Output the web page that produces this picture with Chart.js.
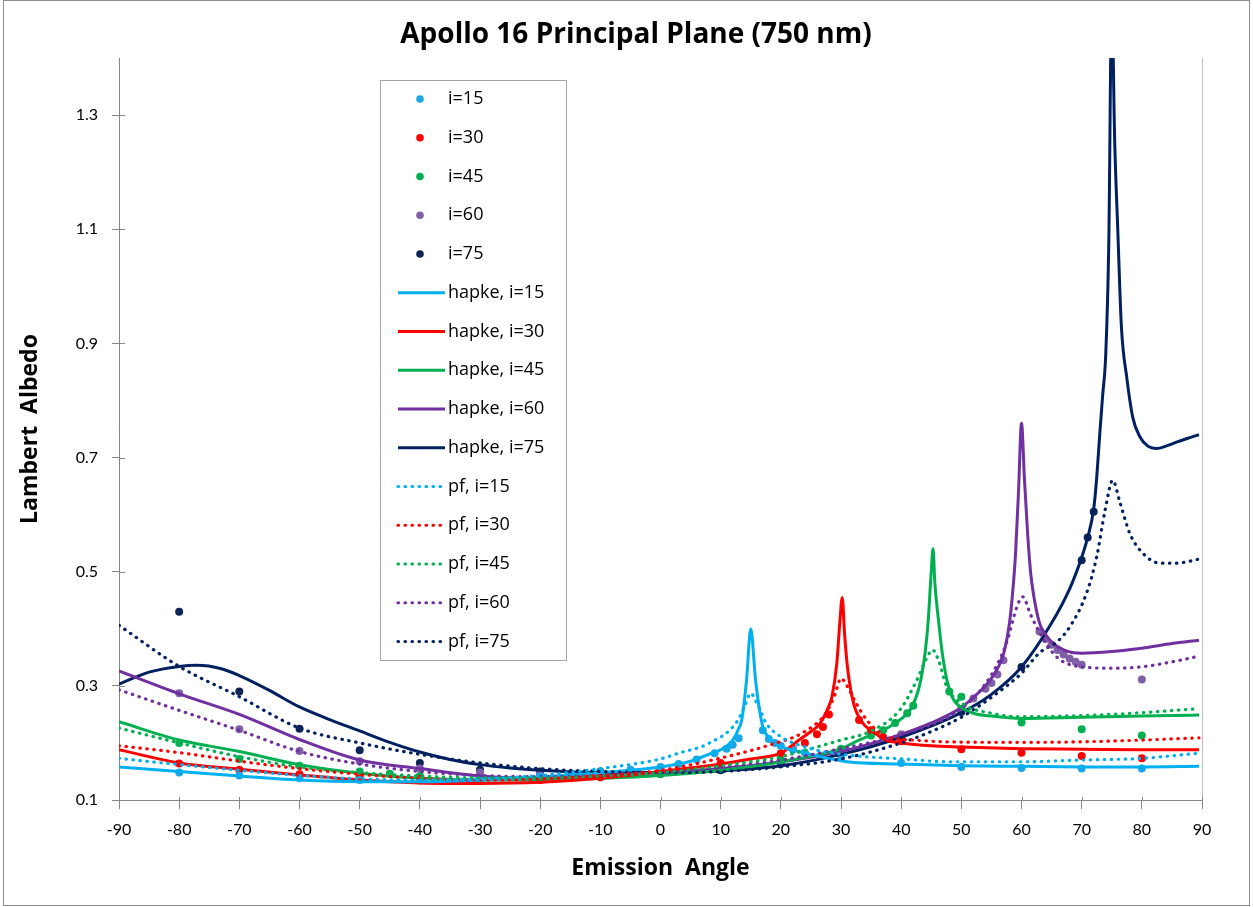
<!DOCTYPE html>
<html>
<head>
<meta charset="utf-8">
<script src="https://cdn.jsdelivr.net/npm/chart.js@4.4.1/dist/chart.umd.min.js"></script>
<style>
  html, body { margin: 0; padding: 0; background: #ffffff; }
  #wrap { width: 1253px; height: 907px; }
</style>
</head>
<body>
<div id="wrap"><canvas id="albedo"></canvas></div>
<script>
// axis ticks
var xTicks = [-90,-80,-70,-60,-50,-40,-30,-20,-10,0,10,20,30,40,50,60,70,80,90];
var yTicks = [0.1,0.3,0.5,0.7,0.9,1.1,1.3];

// measured points
var obs15X = [-80,-70,-60,-50,-40,-30,-20,-15,-10,-5,0,3,6,9,11,12,13,17,18,19,20,22,24,30,40,50,60,70,80];
var obs15Y = [.148,.143,.138,.135,.134,.136,.141,.145,.149,.153,.158,.163,.171,.182,.19,.197,.208,.222,.207,.2,.195,.188,.183,.175,.165,.158,.156,.155,.155];
var obs30X = [-80,-70,-60,-50,-40,-30,-20,-10,0,10,20,22,24,26,27,28,33,35,37,40,50,60,70,80];
var obs30Y = [.164,.153,.145,.14,.137,.134,.135,.14,.148,.165,.182,.19,.2,.215,.228,.25,.24,.222,.21,.203,.189,.183,.177,.173];
var obs45X = [-80,-70,-60,-50,-45,-40,-30,-20,-10,0,10,20,30,35,37,39,41,42,48,50,60,70,80];
var obs45Y = [.2,.172,.16,.15,.146,.142,.137,.137,.14,.145,.155,.17,.19,.213,.222,.235,.252,.265,.29,.281,.236,.224,.213];
var obs60X = [-80,-70,-60,-50,-40,-30,-20,-10,0,10,20,30,40,50,52,54,55,56,57,63,64,65,66,67,68,69,70,80];
var obs60Y = [.287,.224,.186,.168,.155,.148,.145,.145,.15,.155,.168,.188,.215,.26,.278,.295,.305,.32,.345,.395,.382,.372,.363,.355,.348,.342,.337,.311];
var obs75X = [-80,-70,-60,-50,-40,-30,-20,-10,0,10,20,30,40,50,60,70,71,72];
var obs75Y = [.43,.29,.225,.187,.165,.153,.15,.15,.152,.152,.163,.182,.209,.254,.333,.52,.56,.605];

// hapke model
var hapke15X = [-90,-80,-70,-60,-50,-40,-30,-20,-10,0,5,8,10,12,13,13.5,14.3,15,15.8,17,18,19,21,23,27,31,40,50,60,70,80,89.5];
var hapke15Y = [.158,.15,.142,.135,.132,.132,.135,.14,.148,.158,.168,.18,.188,.205,.225,.24,.31,.4,.31,.228,.21,.199,.19,.185,.175,.167,.163,.16,.159,.158,.158,.159];
var hapke30X = [-90,-80,-70,-60,-50,-40,-30,-20,-10,0,10,15,20,23,25,26.5,28,28.5,29.3,29.8,30.2,30.6,31,31.5,32.2,33,34,35,37.5,40,45,50,60,70,80,89.5];
var hapke30Y = [.188,.165,.154,.144,.135,.13,.129,.131,.138,.15,.163,.172,.182,.205,.22,.234,.265,.281,.339,.41,.455,.39,.34,.3,.265,.245,.23,.222,.205,.2,.195,.193,.19,.189,.188,.188];
var hapke45X = [-90,-80,-70,-60,-50,-40,-30,-20,-10,0,10,20,30,33,35,38,40,41.5,43,44,44.5,45,45.3,45.6,46.2,46.8,47.6,48.5,49.8,52,55,60,70,80,89.5];
var hapke45Y = [.237,.205,.185,.162,.147,.138,.135,.135,.138,.143,.152,.167,.19,.205,.214,.228,.242,.258,.298,.36,.415,.5,.54,.48,.415,.36,.31,.28,.263,.252,.247,.243,.245,.247,.249];
var hapke60X = [-90,-80,-70,-60,-50,-40,-30,-20,-10,0,10,20,30,40,45,50,52,54,56,57,58,58.5,59,59.5,60,60.5,61,61.5,62,63,64,65,67,70,75,80,85,89.5];
var hapke60Y = [.326,.286,.25,.206,.17,.155,.142,.138,.142,.148,.155,.167,.185,.215,.235,.262,.28,.3,.33,.355,.41,.46,.53,.64,.76,.66,.57,.5,.46,.41,.39,.377,.363,.357,.36,.366,.374,.38];
var hapke75X = [-90,-85,-80,-77,-73,-70,-65,-60,-55,-50,-45,-40,-35,-30,-25,-20,-10,0,10,20,30,40,50,55,60,65,68,70,71,72,72.5,73,73.5,74,74.5,75,75.5,76,76.6,77.5,78.5,79.7,81,82.5,84,86,88,89.5];
var hapke75Y = [.303,.324,.334,.336,.33,.318,.292,.263,.241,.221,.201,.184,.171,.162,.156,.152,.148,.148,.151,.16,.18,.21,.253,.285,.333,.41,.47,.525,.56,.61,.665,.74,.81,.88,1.07,1.5,1.25,1.1,.93,.84,.77,.736,.72,.716,.72,.728,.735,.74];

// pf model
var pf15X = [-90,-80,-70,-60,-50,-40,-30,-20,-10,0,3,8,12.7,14,15,16,17.6,20,25,31,40,48,60,70,80,89.5];
var pf15Y = [.173,.162,.152,.143,.137,.135,.137,.143,.155,.172,.182,.199,.237,.265,.287,.27,.234,.211,.19,.179,.172,.167,.167,.17,.173,.182];
var pf30X = [-90,-80,-70,-60,-50,-40,-30,-20,-10,0,11,18,24,27.6,29,30,31,32.5,34.3,37.6,42,47.6,60,70,80,89.5];
var pf30Y = [.195,.183,.168,.155,.145,.138,.135,.137,.143,.152,.176,.196,.22,.254,.285,.313,.3,.27,.24,.211,.205,.202,.201,.202,.205,.209];
var pf45X = [-90,-80,-70,-60,-50,-40,-30,-20,-10,0,10,20,25,30,34.8,39.8,42.6,44.3,45.2,46.2,47.6,50.6,55,59.2,70,80,89.5];
var pf45Y = [.226,.2,.176,.158,.148,.142,.139,.139,.142,.148,.16,.176,.19,.205,.22,.258,.31,.35,.363,.345,.298,.266,.252,.246,.248,.253,.26];
var pf60X = [-90,-80,-70,-60,-50,-40,-30,-20,-10,0,10,20,30,40,50,54.8,57.5,59.2,60.2,61.5,63.1,65.8,70.2,75,79.7,85,89.5];
var pf60Y = [.293,.257,.222,.185,.163,.15,.143,.141,.143,.148,.157,.17,.19,.215,.26,.316,.375,.437,.456,.425,.392,.351,.333,.331,.333,.342,.352];
var pf75X = [-90,-80,-70,-60,-50,-40,-30,-20,-10,0,10,20,30,40,45,50,55,60,63,66,68,70.8,72.5,73.9,75.15,76.4,78,80.2,83,85.8,89.5];
var pf75Y = [.406,.334,.281,.226,.2,.18,.165,.155,.15,.148,.15,.158,.172,.2,.22,.245,.28,.322,.358,.378,.403,.462,.526,.608,.66,.62,.567,.532,.515,.515,.522];

var incidence = ['15','30','45','60','75'];
var pointColors = ['#1CA6E6','#FF0000','#00B050','#7F5FA5','#0F2456'];
var lineColors = ['#00B0F0','#FF0000','#00B050','#7030A0','#002060'];
var chartTitle = 'Apollo 16 Principal Plane (750 nm)';

var AlbedoChart = function () {

    var FONT = '"Open Sans", Lato, sans-serif';
    var TICK_FONT = 'Lato, "Open Sans", sans-serif';

    return {
        pairs: function (xs, ys) {
            var out = [];
            for (var i = 0; i < xs.length; i++) {
                out.push({x: xs[i], y: ys[i]});
            }
            return out;
        },
        buildDatasets: function () {
            var obs = [[obs15X,obs15Y],[obs30X,obs30Y],[obs45X,obs45Y],[obs60X,obs60Y],[obs75X,obs75Y]];
            var hapke = [[hapke15X,hapke15Y],[hapke30X,hapke30Y],[hapke45X,hapke45Y],[hapke60X,hapke60Y],[hapke75X,hapke75Y]];
            var pf = [[pf15X,pf15Y],[pf30X,pf30Y],[pf45X,pf45Y],[pf60X,pf60Y],[pf75X,pf75Y]];
            var sets = [];

            $each(obs, function (key, value) {
                sets.push({
                    label: 'i=' + incidence[key],
                    kind: 'dot',
                    data: AlbedoChart.pairs(value[0], value[1]),
                    showLine: false,
                    pointRadius: 4,
                    pointBorderWidth: 0,
                    pointBackgroundColor: pointColors[key],
                    borderColor: pointColors[key],
                    order: 3
                });
            });
            $each(hapke, function (key, value) {
                sets.push({
                    label: 'hapke, i=' + incidence[key],
                    kind: 'solid',
                    data: AlbedoChart.pairs(value[0], value[1]),
                    borderColor: lineColors[key],
                    borderWidth: 3,
                    pointRadius: 0,
                    cubicInterpolationMode: 'monotone',
                    order: 2
                });
            });
            $each(pf, function (key, value) {
                sets.push({
                    label: 'pf, i=' + incidence[key],
                    kind: 'dotted',
                    data: AlbedoChart.pairs(value[0], value[1]),
                    borderColor: lineColors[key],
                    borderWidth: 3.2,
                    borderDash: [0.5, 6.5],
                    borderCapStyle: 'round',
                    pointRadius: 0,
                    cubicInterpolationMode: 'monotone',
                    order: 1
                });
            });
            return sets;
        },
        decorPlugin: {
            id: 'decor',
            afterDraw: function (chart) {
                var ctx = chart.ctx;
                var area = chart.chartArea;
                var xs = chart.scales.x, ys = chart.scales.y;
                ctx.save();

                // outer frame and right edge of plot area
                ctx.strokeStyle = '#8c8c8c';
                ctx.lineWidth = 1;
                ctx.strokeRect(3.5, 0.5, 1246, 905);
                ctx.strokeStyle = '#bfbfbf';
                ctx.beginPath();
                ctx.moveTo(Math.round(area.right) + 0.5, area.top);
                ctx.lineTo(Math.round(area.right) + 0.5, area.bottom);
                ctx.stroke();

                // title
                ctx.fillStyle = '#000000';
                ctx.font = 'bold 28px ' + FONT;
                ctx.textAlign = 'center';
                ctx.textBaseline = 'middle';
                ctx.fillText(chartTitle, 636, 35);

                // inner half of the crossing tick marks
                ctx.strokeStyle = '#868686';
                ctx.beginPath();
                yTicks.forEach(function (v) {
                    var py = Math.round(ys.getPixelForValue(v)) + 0.5;
                    ctx.moveTo(area.left, py);
                    ctx.lineTo(area.left + 6, py);
                });
                xTicks.forEach(function (v) {
                    var px = Math.round(xs.getPixelForValue(v)) + 0.5;
                    ctx.moveTo(px, area.bottom);
                    ctx.lineTo(px, area.bottom - 3);
                });
                ctx.stroke();

                // legend box
                ctx.fillStyle = '#ffffff';
                ctx.fillRect(380, 80, 186, 580);
                ctx.strokeStyle = '#a6a6a6';
                ctx.strokeRect(380.5, 80.5, 186, 580);
                ctx.font = '18px ' + FONT;
                ctx.textBaseline = 'middle';
                ctx.textAlign = 'left';
                chart.data.datasets.forEach(function (ds, i) {
                    var y = 99 + i * 38.75;
                    ctx.strokeStyle = ds.borderColor;
                    ctx.fillStyle = ds.borderColor;
                    if (ds.kind === 'dot') {
                        ctx.beginPath();
                        ctx.arc(420, y, 3.8, 0, Math.PI * 2);
                        ctx.fill();
                    } else {
                        ctx.lineWidth = ds.borderWidth;
                        ctx.lineCap = ds.kind === 'dotted' ? 'round' : 'butt';
                        ctx.setLineDash(ds.kind === 'dotted' ? [0.5, 6.5] : []);
                        ctx.beginPath();
                        ctx.moveTo(398, y);
                        ctx.lineTo(445, y);
                        ctx.stroke();
                        ctx.setLineDash([]);
                    }
                    ctx.fillStyle = '#000000';
                    ctx.fillText(ds.label, 448, y);
                });
                ctx.restore();
            }
        },
        plot: function () {
            var ctx = document.getElementById('albedo');
            return new Chart(ctx, {
                type: 'line',
                data: { datasets: AlbedoChart.buildDatasets() },
                plugins: [AlbedoChart.decorPlugin],
                options: {
                    responsive: true,
                    maintainAspectRatio: false,
                    animation: false,
                    layout: { padding: { left: 0, right: 51, top: 58, bottom: 0 } },
                    plugins: {
                        legend: { display: false },
                        tooltip: { enabled: false },
                        title: { display: false }
                    },
                    scales: {
                        x: {
                            type: 'linear',
                            min: -90,
                            max: 90,
                            afterBuildTicks: function (scale) {
                                scale.ticks = xTicks.map(function (v) { return {value: v}; });
                            },
                            afterFit: function (scale) { scale.height = 107; },
                            grid: { drawOnChartArea: false, color: '#868686', tickLength: 9, tickColor: '#868686' },
                            border: { color: '#868686' },
                            ticks: { color: '#000', padding: 11, maxRotation: 0, font: { family: TICK_FONT, size: 16 } },
                            title: {
                                display: true,
                                text: 'Emission  Angle',
                                color: '#000',
                                font: { family: FONT, size: 23, weight: 'bold' },
                                padding: { top: 4, bottom: 25 }
                            }
                        },
                        y: {
                            min: 0.1,
                            max: 1.4,
                            afterBuildTicks: function (scale) {
                                scale.ticks = yTicks.map(function (v) { return {value: v}; });
                            },
                            afterFit: function (scale) { scale.width = 119; },
                            grid: { drawOnChartArea: false, color: '#868686', tickLength: 7, tickColor: '#868686' },
                            border: { color: '#868686' },
                            ticks: {
                                color: '#000',
                                padding: 14,
                                font: { family: TICK_FONT, size: 16 },
                                callback: function (v) { return Number(v).toFixed(1); }
                            },
                            title: {
                                display: true,
                                text: 'Lambert  Albedo',
                                color: '#000',
                                font: { family: FONT, size: 23, weight: 'bold' },
                                padding: { top: 17, bottom: 4 }
                            }
                        }
                    }
                }
            });
        },
        init: function () {
            AlbedoChart.plot();
        }
    };

}();

function $each(list, fn) {
    for (var i = 0; i < list.length; i++) { fn(i, list[i]); }
}

AlbedoChart.init();
</script>
</body>
</html>
